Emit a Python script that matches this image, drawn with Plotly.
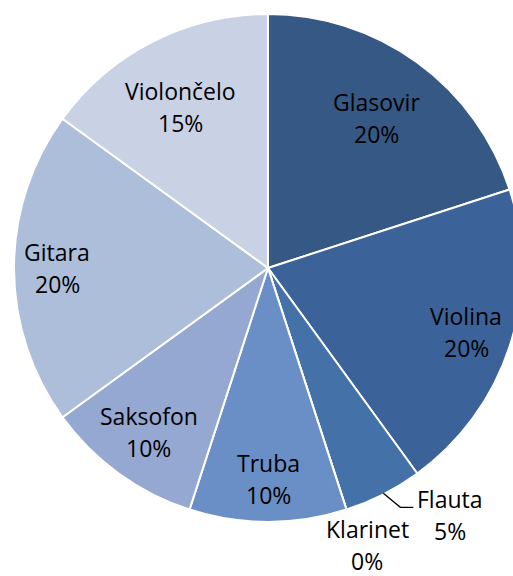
import math
import plotly.graph_objects as go

# ---- data ----
labels = ["Glasovir", "Violina", "Flauta", "Klarinet", "Truba", "Saksofon", "Gitara", "Violončelo"]
values = [20, 20, 5, 0, 10, 10, 20, 15]
pct_text = ["20%", "20%", "5%", "0%", "10%", "10%", "20%", "15%"]

# ---- style ----
colors = ["#365884", "#3c6399", "#4371a8", "#4a78b2", "#6a8ec6", "#94a8d1", "#adbedb", "#c9d2e5"]
label_radius = [0.73, 0.82, None, None, 0.83, 0.80, 0.83, 0.71]
W, H = 540, 576
CX, CY, R = 268, 268, 254
LINE_GAP = 16
FONT = dict(family="Open Sans", size=23, color="#000000")

fig = go.Figure(go.Pie(
    labels=labels, values=values, sort=False, direction="clockwise", rotation=0,
    marker=dict(colors=colors, line=dict(color="white", width=2)),
    textinfo="none", hoverinfo="none", showlegend=False,
    domain=dict(x=[(CX - R) / W, (CX + R) / W], y=[1 - (CY + R) / H, 1 - (CY - R) / H]),
))

def px_to_paper(x, y):
    return x / W, 1 - y / H

total = sum(values)
cum = 0
annotations = []
shapes = []
for i, (lab, v) in enumerate(zip(labels, values)):
    a0 = cum / total * 2 * math.pi
    cum += v
    a1 = cum / total * 2 * math.pi
    mid = (a0 + a1) / 2
    ex, ey = CX + R * math.sin(mid), CY - R * math.cos(mid)
    if label_radius[i] is not None:
        r = label_radius[i] * R
        x, y = CX + r * math.sin(mid), CY - r * math.cos(mid)
        if lab == "Violončelo":
            x -= 6
    elif lab == "Flauta":
        x, y = ex + 67, ey + 21
        pts = [(ex, ey - 1), (ex + 17, ey + 13), (ex + 30, ey + 13)]
        path = "M " + " L ".join(f"{px_to_paper(a, b)[0]},{px_to_paper(a, b)[1]}" for a, b in pts)
        shapes.append(dict(type="path", xref="paper", yref="paper", path=path,
                           line=dict(color="black", width=1.3)))
    else:
        x, y = ex + 21, ey + 35
    for txt, dy in ((lab, -LINE_GAP), (pct_text[i], LINE_GAP)):
        xp, yp = px_to_paper(x, y + dy)
        annotations.append(dict(x=xp, y=yp, xref="paper", yref="paper", showarrow=False,
                                text=txt, font=FONT, align="center", borderpad=0,
                                xanchor="center", yanchor="middle"))

fig.update_layout(width=W, height=H, margin=dict(l=0, r=0, t=0, b=0),
                  paper_bgcolor="white", plot_bgcolor="white",
                  annotations=annotations, shapes=shapes)

fig.write_html("out.html", config={"displayModeBar": False},
               post_script="document.body.style.margin='0';document.body.style.overflow='hidden';")
